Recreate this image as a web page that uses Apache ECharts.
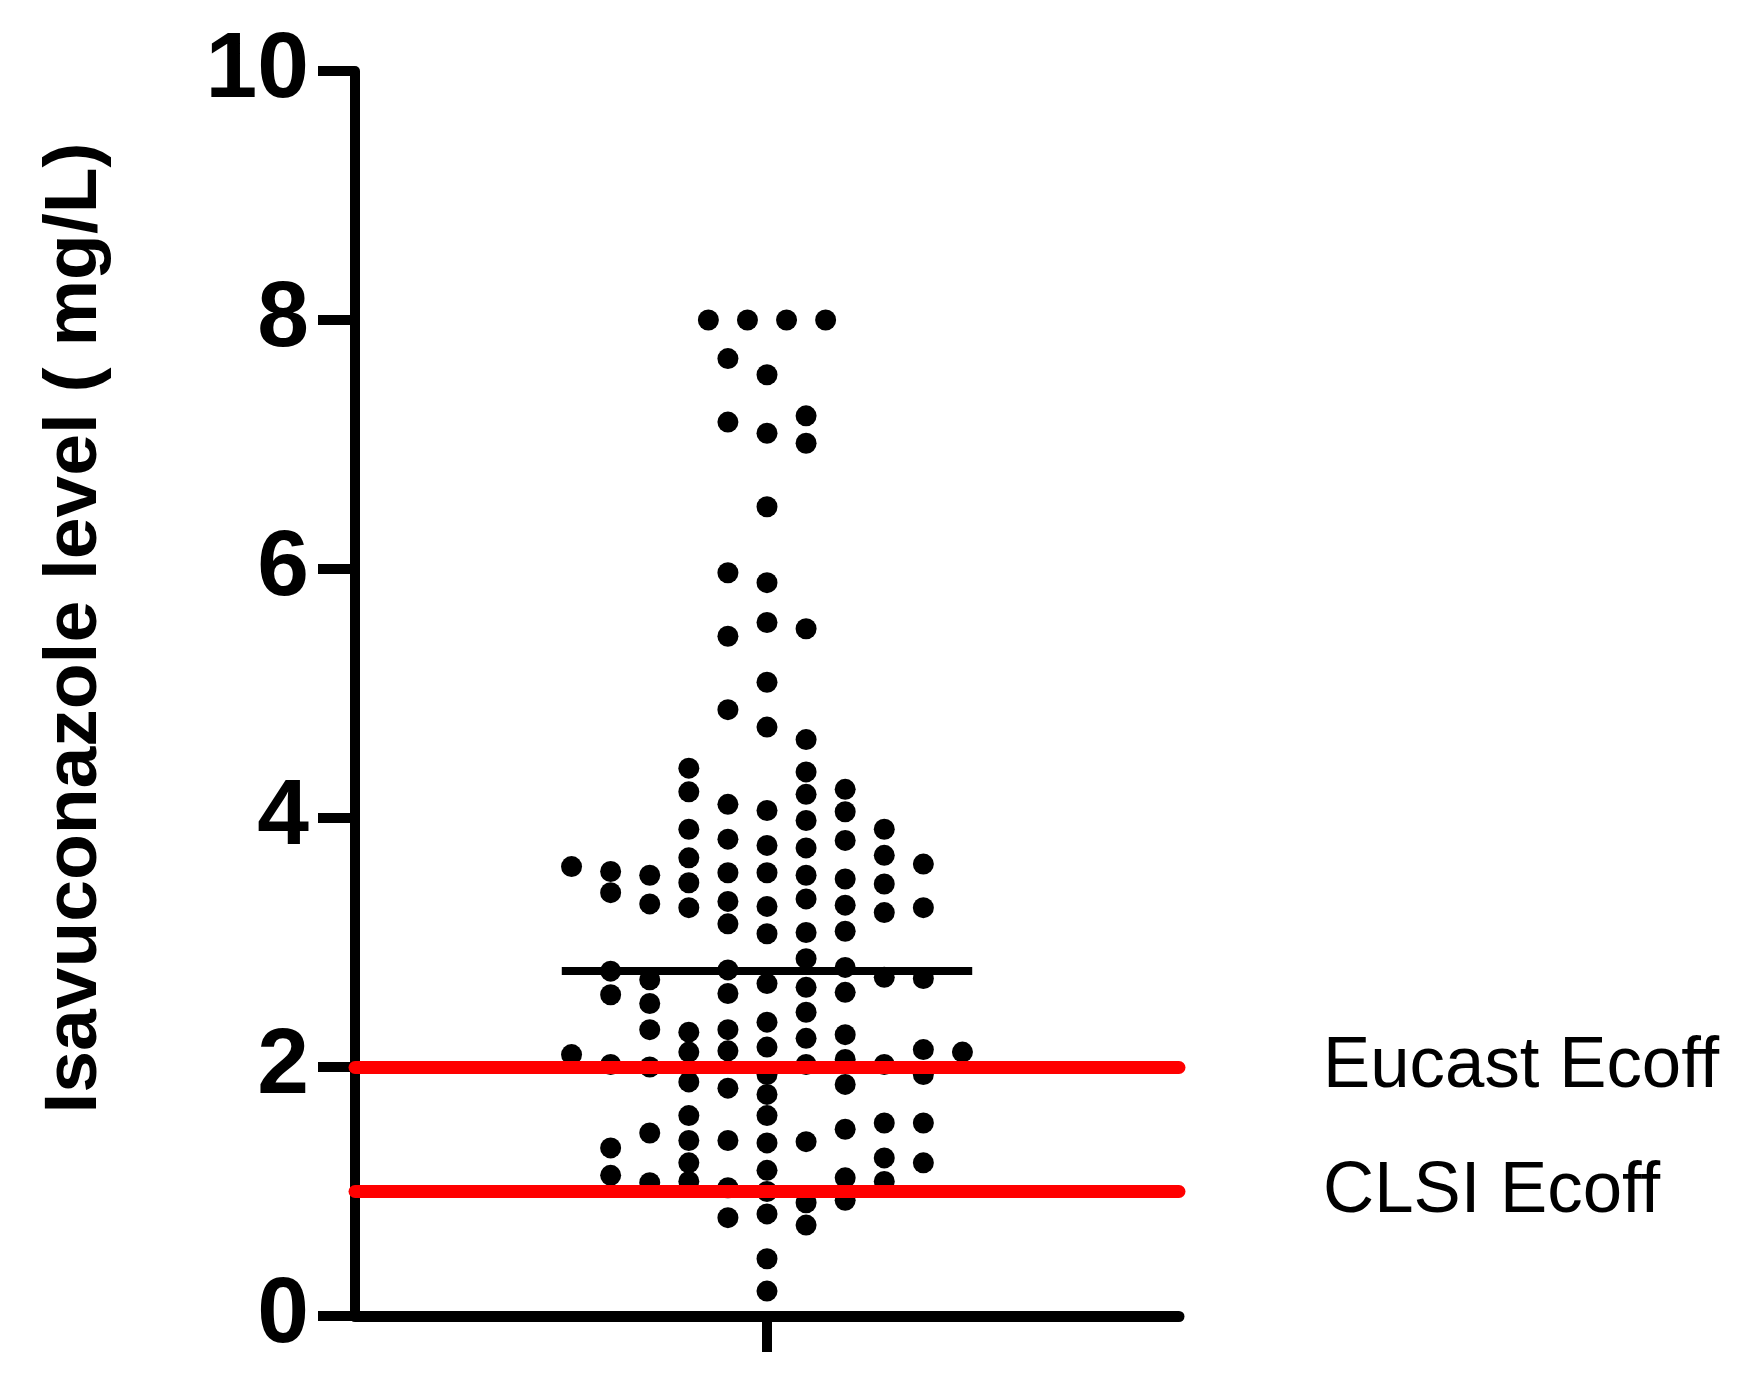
<!DOCTYPE html>
<html>
<head>
<meta charset="utf-8">
<script src="https://cdn.jsdelivr.net/npm/echarts@6/dist/echarts.min.js"></script>
<style>
html,body{margin:0;padding:0;background:#fff;}
#chart{width:1764px;height:1400px;}
</style>
</head>
<body>
<div id="chart"></div>
<script>
// ---- Data ----
var yTicks = [0, 2, 4, 6, 8, 10];
var yTitle = 'Isavuconazole level ( mg/L)';
// Beeswarm column offsets (in dot-column units) and the values in each column
var columnOffsets = [-5, -4, -3, -2, -1, 0, 1, 2, 3, 4, 5];
var colM5 = [3.61, 2.10];
var colM4 = [3.57, 3.40, 2.77, 2.58, 2.02, 1.35, 1.13];
var colM3 = [3.54, 3.31, 2.70, 2.51, 2.30, 2.00, 1.47, 1.07];
var colM2 = [4.40, 4.21, 3.91, 3.68, 3.48, 3.28, 2.28, 2.12, 1.88, 1.61, 1.41, 1.23, 1.08];
var colM1 = [7.69, 7.18, 5.97, 5.46, 4.87, 4.11, 3.83, 3.56, 3.33, 3.15, 2.78, 2.59, 2.30, 2.13, 1.83, 1.41, 1.03, 0.79];
var col0  = [7.56, 7.09, 6.50, 5.89, 5.57, 5.09, 4.73, 4.06, 3.78, 3.56, 3.29, 3.07, 2.67, 2.36, 2.16, 1.94, 1.78, 1.61, 1.39, 1.17, 1.00, 0.82, 0.46, 0.20];
var colP1 = [7.23, 7.01, 5.52, 4.63, 4.37, 4.19, 3.98, 3.76, 3.54, 3.35, 3.08, 2.87, 2.64, 2.44, 2.23, 2.02, 1.40, 0.91, 0.73];
var colP2 = [4.23, 4.05, 3.82, 3.51, 3.30, 3.09, 2.80, 2.60, 2.26, 2.06, 1.86, 1.50, 1.11, 0.93];
var colP3 = [3.91, 3.70, 3.47, 3.24, 2.72, 2.02, 1.55, 1.27, 1.08];
var colP4 = [3.63, 3.28, 2.71, 2.14, 1.94, 1.55, 1.23];
var colP5 = [2.12];
// Top row (values capped at 8) sits on half-column offsets
var topRowOffsets = [-1.5, -0.5, 0.5, 1.5];
var topRowValues = [8.0, 8.0, 8.0, 8.0];
var meanValue = 2.77;
var cutoffNames = ['Eucast Ecoff', 'CLSI Ecoff'];
var cutoffValues = [2, 1];

// ---- Build chart ----
var columns = [colM5, colM4, colM3, colM2, colM1, col0, colP1, colP2, colP3, colP4, colP5];
var points = [];
columns.forEach(function (vals, i) {
  vals.forEach(function (v) { points.push([columnOffsets[i], v]); });
});
topRowValues.forEach(function (v, i) { points.push([topRowOffsets[i], v]); });

var xHalfRange = 10.54;   // axis half-width in column units (layout)
var meanHalfWidth = 5.25; // drawn length of median bar (layout)

var chart = echarts.init(document.getElementById('chart'), null, {renderer: 'canvas'});
chart.setOption({
  animation: false,
  backgroundColor: '#ffffff',
  grid: {left: 355, top: 71, width: 824, height: 1245, containLabel: false},
  xAxis: {
    type: 'value', min: -xHalfRange, max: xHalfRange,
    axisLine: {show: true, onZero: false, lineStyle: {color: '#000', width: 11}},
    axisTick: {show: true, customValues: [0], length: 36, lineStyle: {color: '#000', width: 10}},
    axisLabel: {show: false},
    splitLine: {show: false}
  },
  yAxis: {
    type: 'value', min: 0, max: 10, interval: 2,
    axisLine: {show: true, onZero: false, lineStyle: {color: '#000', width: 10}},
    axisTick: {show: true, length: 37, lineStyle: {color: '#000', width: 10}},
    axisLabel: {
      show: true, margin: 46, color: '#000', fontSize: 93, fontWeight: 'bold',
      fontFamily: 'Liberation Sans, Arial, sans-serif'
    },
    splitLine: {show: false}
  },
  series: [
    {
      type: 'scatter',
      data: points,
      symbol: 'circle',
      symbolSize: 21,
      itemStyle: {color: '#000', opacity: 1},
      z: 2,
      markLine: {
        silent: true, symbol: ['none', 'none'],
        lineStyle: {color: '#000', width: 8, type: 'solid', opacity: 1},
        label: {show: false},
        data: [[{coord: [-meanHalfWidth, meanValue]}, {coord: [meanHalfWidth, meanValue]}]]
      }
    },
    {
      type: 'scatter',
      data: [],
      z: 5,
      markLine: {
        silent: true, symbol: ['none', 'none'],
        lineStyle: {color: '#ff0000', width: 13, type: 'solid', cap: 'round', opacity: 1},
        label: {show: false},
        data: cutoffValues.map(function (v, i) { return {name: cutoffNames[i], yAxis: v}; })
      }
    }
  ]
});

// Axis title and cut-off labels (labels positioned through the chart's own scales)
var graphics = [{
  type: 'text',
  x: 75, y: 628,
  rotation: Math.PI / 2,
  style: {
    text: yTitle,
    fill: '#000',
    font: 'bold 75px "Liberation Sans", Arial, sans-serif',
    textAlign: 'center',
    textVerticalAlign: 'middle'
  }
}];
cutoffValues.forEach(function (v, i) {
  var p = chart.convertToPixel({gridIndex: 0}, [xHalfRange, v]);
  graphics.push({
    type: 'text',
    x: p[0] + 144, y: p[1],
    scaleX: 0.97,
    style: {
      text: cutoffNames[i],
      fill: '#000',
      font: '73px "Liberation Sans", Arial, sans-serif',
      textAlign: 'left',
      textVerticalAlign: 'middle'
    }
  });
});
chart.setOption({graphic: graphics});
</script>
</body>
</html>
